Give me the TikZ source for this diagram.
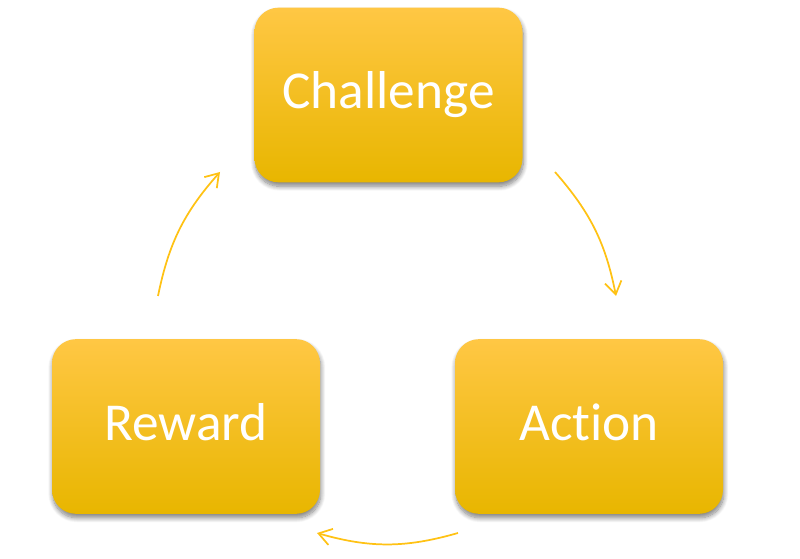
\documentclass[tikz,border=0pt]{standalone}
\usepackage{fontspec}
\setmainfont{Carlito}[RawFeature={-liga;-clig}]
\usetikzlibrary{arrows.meta,shadows.blur}
\definecolor{gtop}{HTML}{FFC744}
\definecolor{gmid}{HTML}{FFC400}
\definecolor{gbot}{HTML}{E8B600}
\definecolor{arr}{HTML}{FFC214}
\tikzset{
  stagebox/.style={rounded corners=18pt, minimum width=201pt, minimum height=131pt,
    top color=gtop, middle color=gmid, bottom color=gbot, draw=none,
    blur shadow={shadow xshift=0.6pt, shadow yshift=-3pt, shadow blur steps=10, shadow opacity=50, shadow blur radius=3.5pt},
    text=white, font=\fontsize{40}{48}\selectfont, text height=21pt, text depth=0pt},
  cyclearrow/.style={draw=arr, line width=1.3pt, -{Straight Barb[length=9.5pt,width=12.5pt,line width=1.3pt]}}
}
\begin{document}
\begin{tikzpicture}[x=0.75pt,y=0.75pt]
\useasboundingbox (0,0) rectangle (800,559);
\node[stagebox] (ch) at (388.5,464) {Challenge};
\node[stagebox] (ac) at (589,132.5) {Action};
\node[stagebox] (rw) at (186,132.5) {Reward};
\coordinate (a1s) at (555,387);
\coordinate (a1e) at (616,263);
\coordinate (a2s) at (458,26);
\coordinate (a2e) at (317,26);
\coordinate (a3s) at (158,263);
\coordinate (a3e) at (220,387);
\draw[cyclearrow] (a1s) to[bend left=15] (a1e);
\draw[cyclearrow] (a2s) to[bend left=16] (a2e);
\draw[cyclearrow] (a3s) to[bend left=15] (a3e);
\end{tikzpicture}
\end{document}
